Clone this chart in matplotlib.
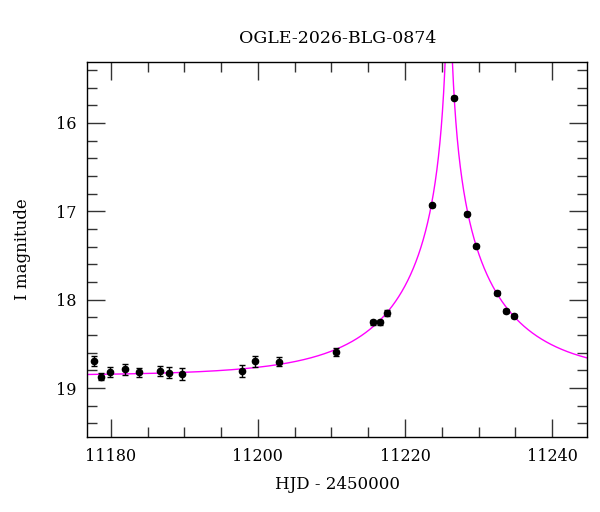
import numpy as np
import matplotlib
matplotlib.use("Agg")
import matplotlib.pyplot as plt
from matplotlib.ticker import MultipleLocator

hjd = [11177.69, 11178.73, 11179.86, 11181.90, 11183.81, 11186.71, 11187.89,
       11189.66, 11197.86, 11199.55, 11202.86, 11210.65, 11215.61, 11216.60,
       11217.59, 11223.63, 11226.67, 11228.48, 11229.62, 11232.52, 11233.70,
       11234.79]
mag = [18.692, 18.873, 18.817, 18.786, 18.820, 18.809, 18.828, 18.835,
       18.809, 18.696, 18.699, 18.590, 18.254, 18.254, 18.149, 16.931,
       15.713, 17.025, 17.395, 17.926, 18.127, 18.187]
err = [0.055, 0.040, 0.057, 0.060, 0.053, 0.055, 0.062, 0.068,
       0.068, 0.060, 0.050, 0.047, 0.030, 0.030, 0.030, 0.015,
       0.015, 0.015, 0.015, 0.020, 0.025, 0.025]

# Point-lens model parameters
t0 = 11225.95
tE = 16.0
u0 = 0.01
fs = 0.85
I0 = 18.86

title = "OGLE-2026-BLG-0874"
xlabel = "HJD - 2450000"
ylabel = "I magnitude"
xlim = (11176.8, 11244.8)
ylim = (19.55, 15.31)

plt.rcParams['font.family'] = ['DejaVu Serif']

fig = plt.figure(figsize=(6.0, 5.12), dpi=100)
ax = fig.add_axes([0.1455, 0.147, 0.979 - 0.1455, 0.879 - 0.147])

t = np.linspace(xlim[0], xlim[1], 6000)
u = np.sqrt(u0**2 + ((t - t0) / tE) ** 2)
A = (u**2 + 2) / (u * np.sqrt(u**2 + 4))
model = I0 - 2.5 * np.log10(fs * A + 1 - fs)
ax.plot(t, model, color='#ff00ff', lw=1.0, zorder=2)

ax.errorbar(hjd, mag, yerr=err, fmt='o', color='black', ms=4.5, capsize=2.2,
            elinewidth=1.0, capthick=1.0, zorder=3)

ax.set_xlim(*xlim)
ax.set_ylim(*ylim)
ax.xaxis.set_major_locator(MultipleLocator(20))
ax.xaxis.set_minor_locator(MultipleLocator(5))
ax.yaxis.set_major_locator(MultipleLocator(1))
ax.yaxis.set_minor_locator(MultipleLocator(0.2))
ax.tick_params(which='both', direction='in', top=True, right=True,
               labelsize=11.5, width=1.0, color='#333333')
ax.tick_params(which='major', length=13, pad=8)
ax.tick_params(which='minor', length=7)
for s in ax.spines.values():
    s.set_linewidth(1.0)

ax.set_title(title, fontsize=12.5, pad=14)
ax.set_xlabel(xlabel, fontsize=12, labelpad=8)
ax.set_ylabel(ylabel, fontsize=12, labelpad=18)

fig.savefig("out.png", dpi=100)
